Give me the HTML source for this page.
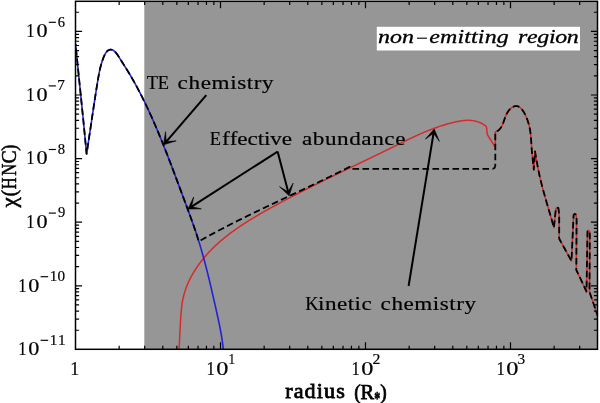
<!DOCTYPE html>
<html><head><meta charset="utf-8"><style>
html,body{margin:0;padding:0;background:#fff;}
svg{display:block;font-family:"Liberation Serif",serif;will-change:transform;font-kerning:none;font-variant-ligatures:none;}
</style></head><body>
<svg width="600" height="403" viewBox="0 0 600 403">
<defs><clipPath id="clip"><rect x="75.5" y="1.3" width="522" height="348"/></clipPath></defs>
<rect x="144.3" y="1.3" width="453.2" height="348" fill="#969696"/>
<rect x="376.8" y="26.8" width="203.2" height="23.7" fill="#fff"/>
<g clip-path="url(#clip)" fill="none" stroke-linejoin="round">
<path d="M178.7 362 L178.53 361.15 L178.57 360.36 L178.61 359.57 L178.64 358.78 L178.68 357.99 L178.72 357.19 L178.76 356.4 L178.79 355.61 L178.83 354.82 L178.87 354.02 L178.91 353.23 L178.94 352.43 L178.98 351.64 L179.02 350.84 L179.06 350.05 L179.09 349.25 L179.13 348.45 L179.17 347.66 L179.21 346.86 L179.24 346.06 L179.28 345.26 L179.32 344.46 L179.36 343.66 L179.39 342.86 L179.43 342.06 L179.47 341.26 L179.51 340.46 L179.55 339.66 L179.59 338.86 L179.63 338.05 L179.67 337.25 L179.7 336.45 L179.74 335.64 L179.78 334.84 L179.83 334.03 L179.87 333.23 L179.91 332.42 L179.95 331.62 L179.99 330.81 L180.03 330.01 L180.08 329.2 L180.12 328.39 L180.16 327.58 L180.21 326.78 L180.25 325.97 L180.3 325.16 L180.34 324.35 L180.39 323.54 L180.43 322.73 L180.48 321.92 L180.53 321.11 L180.58 320.3 L180.63 319.49 L180.67 318.67 L180.73 317.86 L180.78 317.05 L180.83 316.24 L180.89 315.43 L180.94 314.62 L181 313.8 L181.07 312.99 L181.13 312.18 L181.2 311.37 L181.27 310.56 L181.35 309.76 L181.43 308.95 L181.52 308.14 L181.61 307.34 L181.7 306.54 L181.81 305.73 L181.91 304.93 L182.03 304.13 L182.15 303.34 L182.27 302.54 L182.41 301.75 L182.55 300.96 L182.7 300.17 L182.85 299.38 L183.02 298.6 L183.19 297.81 L183.37 297.03 L183.56 296.26 L183.76 295.48 L183.96 294.71 L184.17 293.94 L184.39 293.17 L184.62 292.41 L184.86 291.64 L185.1 290.88 L185.35 290.13 L185.61 289.37 L185.87 288.62 L186.14 287.87 L186.42 287.13 L186.71 286.38 L187 285.64 L187.3 284.9 L187.6 284.17 L187.92 283.43 L188.24 282.7 L188.56 281.98 L188.9 281.25 L189.23 280.53 L189.58 279.81 L189.93 279.09 L190.29 278.38 L190.65 277.67 L191.02 276.96 L191.4 276.26 L191.78 275.56 L192.16 274.86 L192.56 274.17 L192.95 273.47 L193.36 272.78 L193.77 272.1 L194.18 271.42 L194.6 270.74 L195.02 270.06 L195.45 269.39 L195.89 268.72 L196.33 268.05 L196.77 267.38 L197.22 266.72 L197.67 266.07 L198.13 265.41 L198.6 264.76 L199.06 264.11 L199.54 263.47 L200.01 262.83 L200.49 262.19 L200.98 261.56 L201.47 260.93 L201.96 260.3 L202.46 259.67 L202.96 259.05 L203.46 258.44 L203.97 257.82 L204.48 257.21 L204.99 256.61 L205.51 256.01 L206.04 255.41 L206.56 254.81 L207.09 254.22 L207.62 253.63 L208.16 253.04 L208.7 252.46 L209.24 251.88 L209.79 251.3 L210.34 250.73 L210.89 250.16 L211.45 249.59 L212.01 249.03 L212.57 248.46 L213.13 247.91 L213.7 247.35 L214.27 246.8 L214.85 246.25 L215.43 245.7 L216.01 245.16 L216.59 244.62 L217.18 244.08 L217.77 243.55 L218.36 243.02 L218.95 242.49 L219.55 241.96 L220.15 241.44 L220.75 240.92 L221.36 240.4 L221.97 239.88 L222.58 239.37 L223.19 238.86 L223.81 238.35 L224.43 237.85 L225.05 237.35 L225.67 236.85 L226.3 236.35 L226.92 235.85 L227.55 235.36 L228.19 234.87 L228.82 234.38 L229.46 233.9 L230.1 233.42 L230.74 232.93 L231.38 232.46 L232.03 231.98 L232.67 231.51 L233.32 231.03 L233.97 230.56 L234.63 230.1 L235.28 229.63 L235.94 229.17 L236.6 228.71 L237.26 228.25 L237.92 227.79 L238.59 227.33 L239.25 226.88 L239.92 226.43 L240.59 225.98 L241.26 225.53 L241.93 225.09 L242.61 224.64 L243.28 224.2 L243.96 223.76 L244.64 223.32 L245.31 222.89 L246 222.45 L246.68 222.02 L247.36 221.59 L248.05 221.16 L248.73 220.73 L249.42 220.3 L250.11 219.88 L250.8 219.45 L251.49 219.03 L252.18 218.61 L252.87 218.19 L253.56 217.77 L254.26 217.35 L254.95 216.94 L255.65 216.53 L256.35 216.11 L257.04 215.7 L257.74 215.29 L258.44 214.88 L259.14 214.48 L259.84 214.07 L260.54 213.66 L261.25 213.26 L261.95 212.86 L262.65 212.46 L263.36 212.05 L264.06 211.65 L264.76 211.26 L265.47 210.86 L266.17 210.46 L266.88 210.07 L267.59 209.67 L268.29 209.28 L269 208.88 L269.7 208.49 L270.41 208.1 L271.12 207.71 L271.83 207.32 L272.53 206.93 L273.24 206.54 L273.95 206.15 L274.66 205.77 L275.36 205.38 L276.07 204.99 L276.78 204.61 L277.49 204.23 L278.2 203.84 L278.9 203.46 L279.61 203.08 L280.32 202.7 L281.03 202.32 L281.74 201.94 L282.45 201.56 L283.16 201.18 L283.87 200.8 L284.58 200.43 L285.29 200.05 L286 199.67 L286.71 199.3 L287.42 198.92 L288.13 198.55 L288.84 198.18 L289.55 197.8 L290.26 197.43 L290.98 197.06 L291.69 196.69 L292.4 196.32 L293.11 195.95 L293.82 195.58 L294.53 195.21 L295.25 194.85 L295.96 194.48 L296.67 194.11 L297.38 193.74 L298.1 193.38 L298.81 193.01 L299.52 192.65 L300.23 192.28 L300.95 191.92 L301.66 191.56 L302.37 191.19 L303.09 190.83 L303.8 190.47 L304.52 190.11 L305.23 189.75 L305.94 189.39 L306.66 189.03 L307.37 188.67 L308.09 188.31 L308.8 187.95 L309.52 187.59 L310.23 187.23 L310.95 186.88 L311.66 186.52 L312.38 186.16 L313.09 185.81 L313.81 185.45 L314.52 185.09 L315.24 184.74 L315.96 184.38 L316.67 184.03 L317.39 183.68 L318.11 183.32 L318.82 182.97 L319.54 182.61 L320.25 182.26 L320.97 181.91 L321.69 181.56 L322.41 181.2 L323.12 180.85 L323.84 180.5 L324.56 180.15 L325.27 179.8 L325.99 179.45 L326.71 179.1 L327.43 178.75 L328.15 178.4 L328.86 178.05 L329.58 177.7 L330.3 177.35 L331.02 177 L331.74 176.65 L332.46 176.3 L333.17 175.95 L333.89 175.6 L334.61 175.25 L335.33 174.91 L336.05 174.56 L336.77 174.21 L337.49 173.86 L338.21 173.51 L338.93 173.17 L339.65 172.82 L340.37 172.47 L341.09 172.12 L341.81 171.78 L342.53 171.43 L343.25 171.08 L343.97 170.74 L344.69 170.39 L345.41 170.04 L346.13 169.69 L346.85 169.35 L347.57 169 L348.29 168.65 L349.01 168.31 L349.73 167.96 L350.45 167.61 L351.18 167.27 L351.9 166.92 L352.62 166.57 L353.34 166.23 L354.06 165.88 L354.78 165.53 L355.5 165.19 L356.23 164.84 L356.95 164.49 L357.67 164.15 L358.39 163.8 L359.11 163.45 L359.84 163.1 L360.56 162.76 L361.28 162.41 L362 162.06 L362.73 161.71 L363.45 161.36 L364.17 161.02 L364.89 160.67 L365.62 160.32 L366.34 159.97 L367.06 159.62 L367.79 159.27 L368.51 158.93 L369.23 158.58 L369.96 158.23 L370.68 157.88 L371.4 157.53 L372.13 157.18 L372.85 156.83 L373.57 156.48 L374.3 156.13 L375.02 155.78 L375.74 155.42 L376.47 155.07 L377.19 154.72 L377.92 154.37 L378.64 154.02 L379.36 153.66 L380.09 153.31 L380.81 152.96 L381.54 152.61 L382.26 152.25 L382.99 151.9 L383.71 151.54 L384.44 151.19 L385.16 150.83 L385.88 150.48 L386.61 150.12 L387.33 149.77 L388.06 149.41 L388.78 149.05 L389.51 148.7 L390.23 148.34 L390.96 147.98 L391.68 147.62 L392.41 147.26 L393.13 146.9 L393.86 146.55 L394.59 146.19 L395.31 145.83 L396.04 145.47 L396.76 145.11 L397.49 144.75 L398.22 144.39 L398.94 144.03 L399.67 143.68 L400.4 143.32 L401.12 142.96 L401.85 142.61 L402.58 142.25 L403.31 141.89 L404.03 141.54 L404.76 141.19 L405.49 140.83 L406.22 140.48 L406.95 140.13 L407.68 139.78 L408.41 139.43 L409.14 139.08 L409.87 138.73 L410.6 138.39 L411.34 138.04 L412.07 137.7 L412.8 137.35 L413.53 137.01 L414.27 136.67 L415 136.34 L415.74 136 L416.47 135.66 L417.21 135.33 L417.94 135 L418.68 134.67 L419.42 134.34 L420.15 134.02 L420.89 133.69 L421.63 133.37 L422.37 133.05 L423.11 132.73 L423.85 132.42 L424.59 132.11 L425.33 131.79 L426.08 131.49 L426.82 131.18 L427.56 130.88 L428.31 130.58 L429.05 130.28 L429.8 129.98 L430.54 129.69 L431.29 129.4 L432.04 129.11 L432.79 128.83 L433.54 128.54 L434.29 128.27 L435.04 127.99 L435.79 127.72 L436.54 127.45 L437.3 127.18 L438.05 126.92 L438.81 126.66 L439.56 126.41 L440.32 126.15 L441.08 125.9 L441.84 125.66 L442.6 125.42 L443.36 125.18 L444.12 124.94 L444.88 124.71 L445.65 124.49 L446.41 124.27 L447.18 124.05 L447.94 123.83 L448.71 123.62 L449.48 123.41 L450.25 123.21 L451.02 123.01 L451.79 122.82 L452.57 122.63 L453.34 122.45 L454.12 122.27 L454.89 122.09 L455.67 121.92 L456.45 121.75 L457.23 121.59 L458.01 121.44 L458.79 121.29 L459.57 121.15 L460.35 121.02 L461.13 120.9 L461.92 120.79 L462.7 120.68 L463.48 120.59 L464.26 120.51 L465.04 120.45 L465.82 120.39 L466.6 120.35 L467.38 120.33 L468.16 120.32 L468.94 120.33 L469.71 120.35 L470.49 120.39 L471.26 120.45 L472.03 120.52 L472.8 120.62 L473.56 120.73 L474.33 120.87 L475.09 121.02 L475.85 121.2 L476.61 121.41 L477.36 121.63 L478.12 121.88 L478.86 122.15 L479.61 122.45 L480.35 122.78 L481.09 123.13 L481.83 123.51 L482.56 123.91 L483.29 124.35 L484.01 124.82 L484.73 125.31 L485.45 125.84 L486.16 126.39 L486.5 127.2 L487.3 134.5 L495.3 147.4 L495.3 132.1 L496.04 131.64 L496.8 131.31 L497.51 130.93 L498.17 130.49 L498.78 130.01 L499.35 129.49 L499.88 128.92 L500.38 128.32 L500.83 127.68 L501.26 127.01 L501.66 126.32 L502.04 125.59 L502.39 124.85 L502.72 124.08 L503.04 123.3 L503.35 122.5 L503.65 121.69 L503.94 120.87 L504.23 120.05 L504.52 119.22 L504.81 118.4 L505.1 117.58 L505.41 116.76 L505.73 115.95 L506.07 115.16 L506.42 114.38 L506.8 113.62 L507.2 112.88 L507.63 112.17 L508.08 111.48 L508.56 110.82 L509.06 110.19 L509.59 109.59 L510.13 109.04 L510.68 108.52 L511.26 108.04 L511.84 107.61 L512.43 107.23 L513.04 106.9 L513.65 106.61 L514.26 106.39 L514.88 106.22 L515.5 106.11 L516.11 106.06 L516.73 106.08 L517.33 106.17 L517.93 106.33 L518.52 106.56 L519.11 106.87 L519.67 107.24 L520.23 107.67 L520.78 108.16 L521.32 108.71 L521.84 109.3 L522.35 109.95 L522.84 110.63 L523.33 111.35 L523.8 112.11 L524.25 112.89 L524.69 113.7 L525.11 114.53 L525.52 115.38 L525.92 116.23 L526.29 117.1 L526.65 117.96 L526.99 118.83 L527.32 119.69 L527.62 120.55 L527.91 121.39 L528.18 122.21 L528.43 123.02 L528.66 123.82 L528.88 124.61 L529.09 125.39 L529.28 126.16 L529.46 126.93 L529.62 127.7 L529.77 128.46 L529.92 129.22 L530.05 129.99 L530.17 130.76 L530.29 131.53 L530.4 132.3 L530.5 133.07 L530.59 133.85 L530.68 134.62 L530.76 135.4 L530.83 136.18 L530.9 136.96 L530.97 137.75 L531.03 138.53 L531.08 139.32 L531.14 140.11 L531.19 140.9 L531.24 141.7 L531.29 142.49 L531.34 143.29 L531.39 144.09 L531.43 144.89 L531.48 145.7 L531.53 146.5 L531.58 147.31 L531.64 148.12 L531.7 148.93 L531.76 149.75 L531.82 150.56 L531.89 151.38 L531.96 152.2 L532.04 153.03 L532.12 153.85 L532.21 154.68 L532.31 155.51 L532.4 156.3 L533.8 169.7 L535 151.5 L536.9 162.3 L537.07 163.09 L537.21 163.9 L537.35 164.7 L537.5 165.51 L537.64 166.31 L537.79 167.11 L537.94 167.91 L538.1 168.71 L538.26 169.51 L538.42 170.31 L538.58 171.11 L538.75 171.91 L538.92 172.7 L539.09 173.5 L539.26 174.3 L539.44 175.09 L539.62 175.89 L539.8 176.68 L539.98 177.47 L540.16 178.27 L540.35 179.06 L540.54 179.85 L540.73 180.64 L540.93 181.43 L541.12 182.22 L541.32 183.01 L541.52 183.8 L541.72 184.59 L541.92 185.38 L542.12 186.17 L542.33 186.96 L542.54 187.74 L542.75 188.53 L542.96 189.32 L543.17 190.1 L543.38 190.89 L543.59 191.67 L543.81 192.46 L544.03 193.25 L544.24 194.03 L544.46 194.81 L544.68 195.6 L544.9 196.38 L545.13 197.17 L545.35 197.95 L545.57 198.73 L545.8 199.52 L546.02 200.3 L546.25 201.08 L546.47 201.86 L546.7 202.65 L546.93 203.43 L547.15 204.21 L547.38 204.99 L547.61 205.77 L547.84 206.56 L548.07 207.34 L548.3 208.12 L548.53 208.9 L548.76 209.68 L548.99 210.47 L549.21 211.25 L549.44 212.03 L549.67 212.81 L549.9 213.59 L550.13 214.37 L550.36 215.16 L550.59 215.94 L550.82 216.72 L551.04 217.5 L551.27 218.29 L551.5 219.07 L551.72 219.85 L551.95 220.63 L552.17 221.42 L552.39 222.2 L552.62 222.98 L552.84 223.77 L553.06 224.55 L553.28 225.34 L553.5 226.12 L553.72 226.9 L553.9 227.7 L555.9 208.6 L557 207.6 L558.4 208.2 L559.2 214.9 L559.2 238.7 L571.5 261 L573.6 215 L574.6 213.9 L576 214.6 L576.6 219 L576.3 270 L586.5 291.5 L587.5 231.4 L588.4 230.4 L589.5 231.2 L589.8 235 L589.5 292 L598.5 318" stroke="#d82a2a" stroke-width="1.5"/>
<path d="M75.5 44 L79.4 82 L83.3 120 L86.6 153.8 L86.71 152.99 L86.83 152.21 L86.95 151.43 L87.08 150.65 L87.2 149.87 L87.32 149.09 L87.45 148.31 L87.57 147.52 L87.69 146.74 L87.81 145.95 L87.93 145.17 L88.05 144.38 L88.17 143.59 L88.3 142.8 L88.42 142.01 L88.54 141.22 L88.66 140.43 L88.78 139.64 L88.9 138.85 L89.02 138.06 L89.14 137.26 L89.26 136.47 L89.38 135.67 L89.5 134.88 L89.62 134.08 L89.74 133.29 L89.85 132.49 L89.97 131.69 L90.09 130.9 L90.21 130.1 L90.33 129.3 L90.45 128.5 L90.57 127.7 L90.69 126.9 L90.81 126.1 L90.93 125.31 L91.04 124.51 L91.16 123.71 L91.28 122.91 L91.4 122.11 L91.52 121.3 L91.64 120.5 L91.76 119.7 L91.88 118.9 L91.99 118.1 L92.11 117.3 L92.23 116.5 L92.35 115.7 L92.47 114.9 L92.59 114.1 L92.71 113.3 L92.83 112.5 L92.95 111.7 L93.07 110.9 L93.19 110.1 L93.31 109.3 L93.43 108.5 L93.55 107.71 L93.67 106.91 L93.79 106.11 L93.91 105.31 L94.03 104.52 L94.15 103.72 L94.27 102.92 L94.39 102.13 L94.51 101.33 L94.63 100.54 L94.75 99.75 L94.87 98.95 L95 98.16 L95.12 97.37 L95.24 96.58 L95.36 95.79 L95.49 95 L95.61 94.21 L95.73 93.42 L95.86 92.63 L95.98 91.84 L96.1 91.06 L96.23 90.27 L96.35 89.49 L96.48 88.7 L96.6 87.92 L96.73 87.14 L96.86 86.36 L96.98 85.58 L97.11 84.8 L97.24 84.02 L97.36 83.25 L97.49 82.47 L97.62 81.7 L97.75 80.93 L97.87 80.15 L98 79.38 L98.13 78.61 L98.26 77.85 L98.4 77.08 L98.53 76.31 L98.67 75.54 L98.81 74.77 L98.95 74 L99.1 73.23 L99.26 72.46 L99.41 71.68 L99.58 70.91 L99.75 70.13 L99.92 69.35 L100.1 68.56 L100.29 67.78 L100.49 66.99 L100.7 66.19 L100.91 65.4 L101.14 64.59 L101.37 63.79 L101.62 62.98 L101.87 62.16 L102.14 61.34 L102.42 60.51 L102.71 59.67 L103.01 58.83 L103.32 58 L103.65 57.16 L104 56.34 L104.36 55.54 L104.73 54.76 L105.13 54.02 L105.54 53.31 L105.97 52.65 L106.42 52.04 L106.89 51.48 L107.38 50.99 L107.89 50.57 L108.42 50.22 L108.98 49.95 L109.55 49.77 L110.14 49.66 L110.74 49.64 L111.35 49.69 L111.95 49.82 L112.55 50.03 L113.15 50.32 L113.73 50.68 L114.3 51.12 L114.86 51.61 L115.41 52.17 L115.94 52.78 L116.47 53.43 L116.98 54.11 L117.49 54.83 L117.99 55.57 L118.48 56.33 L118.97 57.09 L119.45 57.86 L119.92 58.62 L120.39 59.37 L120.86 60.11 L121.32 60.85 L121.77 61.57 L122.22 62.28 L122.67 62.99 L123.12 63.69 L123.56 64.39 L123.99 65.07 L124.43 65.76 L124.86 66.44 L125.29 67.11 L125.71 67.79 L126.14 68.46 L126.56 69.13 L126.98 69.8 L127.39 70.47 L127.81 71.15 L128.22 71.82 L128.63 72.5 L129.04 73.17 L129.45 73.85 L129.86 74.53 L130.26 75.21 L130.67 75.9 L131.07 76.58 L131.47 77.27 L131.87 77.95 L132.27 78.64 L132.66 79.33 L133.06 80.02 L133.45 80.71 L133.84 81.41 L134.23 82.1 L134.62 82.8 L135 83.49 L135.39 84.19 L135.77 84.89 L136.16 85.59 L136.54 86.29 L136.92 86.99 L137.29 87.69 L137.67 88.4 L138.04 89.1 L138.42 89.81 L138.79 90.52 L139.16 91.23 L139.53 91.93 L139.9 92.64 L140.27 93.36 L140.63 94.07 L141 94.78 L141.36 95.49 L141.72 96.21 L142.08 96.92 L142.44 97.64 L142.8 98.35 L143.15 99.07 L143.51 99.79 L143.86 100.51 L144.21 101.23 L144.57 101.95 L144.92 102.67 L145.26 103.39 L145.61 104.11 L145.96 104.83 L146.3 105.56 L146.65 106.28 L146.99 107.01 L147.33 107.73 L147.67 108.46 L148.01 109.18 L148.35 109.91 L148.69 110.63 L149.03 111.36 L149.36 112.09 L149.69 112.82 L150.03 113.55 L150.36 114.27 L150.69 115 L151.02 115.73 L151.35 116.46 L151.68 117.19 L152 117.92 L152.33 118.66 L152.66 119.39 L152.98 120.12 L153.3 120.85 L153.63 121.58 L153.95 122.32 L154.27 123.05 L154.59 123.78 L154.9 124.52 L155.22 125.25 L155.54 125.99 L155.85 126.72 L156.17 127.46 L156.48 128.2 L156.8 128.93 L157.11 129.67 L157.42 130.41 L157.73 131.14 L158.04 131.88 L158.35 132.62 L158.66 133.36 L158.97 134.1 L159.27 134.84 L159.58 135.58 L159.88 136.31 L160.19 137.05 L160.49 137.79 L160.8 138.54 L161.1 139.28 L161.4 140.02 L161.7 140.76 L162 141.5 L162.3 142.24 L162.6 142.98 L162.9 143.73 L163.2 144.47 L163.5 145.21 L163.79 145.96 L164.09 146.7 L164.38 147.44 L164.68 148.19 L164.97 148.93 L165.27 149.68 L165.56 150.42 L165.85 151.17 L166.15 151.91 L166.44 152.66 L166.73 153.4 L167.02 154.15 L167.31 154.89 L167.6 155.64 L167.89 156.39 L168.18 157.13 L168.47 157.88 L168.75 158.63 L169.04 159.37 L169.33 160.12 L169.62 160.87 L169.9 161.62 L170.19 162.36 L170.47 163.11 L170.76 163.86 L171.05 164.61 L171.33 165.36 L171.61 166.1 L171.9 166.85 L172.18 167.6 L172.47 168.35 L172.75 169.1 L173.03 169.85 L173.32 170.6 L173.6 171.35 L173.88 172.1 L174.16 172.85 L174.44 173.6 L174.73 174.35 L175.01 175.1 L175.29 175.85 L175.57 176.6 L175.85 177.35 L176.13 178.1 L176.41 178.85 L176.69 179.6 L176.97 180.35 L177.25 181.1 L177.53 181.85 L177.81 182.6 L178.09 183.35 L178.37 184.1 L178.65 184.85 L178.93 185.6 L179.21 186.36 L179.49 187.11 L179.77 187.86 L180.05 188.61 L180.33 189.36 L180.61 190.11 L180.89 190.86 L181.17 191.61 L181.45 192.36 L181.73 193.12 L182.01 193.87 L182.29 194.62 L182.57 195.37 L182.85 196.12 L183.13 196.87 L183.41 197.62 L183.69 198.37 L183.97 199.12 L184.25 199.88 L184.53 200.63 L184.81 201.38 L185.09 202.13 L185.37 202.88 L185.65 203.63 L185.93 204.38 L186.21 205.13 L186.49 205.89 L186.77 206.64 L187.04 207.39 L187.32 208.14 L187.6 208.89 L187.88 209.65 L188.15 210.4 L188.43 211.15 L188.71 211.9 L188.98 212.66 L189.26 213.41 L189.53 214.16 L189.81 214.92 L190.08 215.67 L190.35 216.42 L190.62 217.18 L190.89 217.93 L191.17 218.69 L191.44 219.44 L191.7 220.2 L191.97 220.95 L192.24 221.71 L192.51 222.46 L192.77 223.22 L193.04 223.97 L193.3 224.73 L193.57 225.49 L193.83 226.24 L194.09 227 L194.35 227.76 L194.61 228.52 L194.87 229.27 L195.13 230.03 L195.38 230.79 L195.64 231.55 L195.89 232.31 L196.14 233.07 L196.4 233.83 L196.65 234.59 L196.9 235.35 L197.14 236.11 L197.39 236.88 L197.63 237.64 L197.88 238.4 L198.12 239.16 L198.36 239.93 L198.6 240.69 L198.84 241.46 L199.08 242.22 L199.31 242.99 L199.55 243.75 L199.78 244.52 L200.01 245.29 L200.24 246.05 L200.47 246.82 L200.7 247.59 L200.92 248.36 L201.15 249.12 L201.37 249.89 L201.6 250.66 L201.82 251.43 L202.04 252.2 L202.26 252.97 L202.47 253.74 L202.69 254.51 L202.91 255.28 L203.12 256.06 L203.33 256.83 L203.55 257.6 L203.76 258.37 L203.97 259.15 L204.18 259.92 L204.39 260.69 L204.59 261.47 L204.8 262.24 L205.01 263.01 L205.21 263.79 L205.41 264.56 L205.62 265.34 L205.82 266.11 L206.02 266.89 L206.22 267.67 L206.42 268.44 L206.62 269.22 L206.81 270 L207.01 270.77 L207.21 271.55 L207.4 272.33 L207.59 273.1 L207.79 273.88 L207.98 274.66 L208.17 275.44 L208.36 276.22 L208.56 277 L208.75 277.77 L208.93 278.55 L209.12 279.33 L209.31 280.11 L209.5 280.89 L209.69 281.67 L209.87 282.45 L210.06 283.23 L210.24 284.01 L210.43 284.79 L210.61 285.57 L210.8 286.35 L210.98 287.13 L211.16 287.91 L211.35 288.69 L211.53 289.47 L211.71 290.26 L211.89 291.04 L212.07 291.82 L212.25 292.6 L212.43 293.38 L212.61 294.16 L212.79 294.94 L212.97 295.72 L213.15 296.51 L213.33 297.29 L213.51 298.07 L213.69 298.85 L213.86 299.63 L214.04 300.42 L214.22 301.2 L214.4 301.98 L214.57 302.76 L214.75 303.54 L214.93 304.32 L215.1 305.11 L215.28 305.89 L215.46 306.67 L215.63 307.45 L215.81 308.23 L215.99 309.02 L216.16 309.8 L216.34 310.58 L216.52 311.36 L216.69 312.14 L216.87 312.93 L217.04 313.71 L217.21 314.49 L217.39 315.27 L217.56 316.05 L217.73 316.84 L217.9 317.62 L218.07 318.4 L218.24 319.19 L218.41 319.97 L218.58 320.75 L218.74 321.54 L218.91 322.32 L219.07 323.1 L219.23 323.89 L219.39 324.67 L219.55 325.46 L219.71 326.24 L219.86 327.03 L220.02 327.81 L220.17 328.6 L220.32 329.38 L220.47 330.17 L220.62 330.96 L220.76 331.74 L220.9 332.53 L221.04 333.32 L221.18 334.11 L221.32 334.9 L221.45 335.68 L221.58 336.47 L221.71 337.26 L221.84 338.05 L221.96 338.85 L222.09 339.64 L222.2 340.43 L222.32 341.22 L222.43 342.01 L222.54 342.81 L222.65 343.6 L222.76 344.39 L222.86 345.19 L222.95 345.98 L223.05 346.78 L223.14 347.58 L223.23 348.37 L223.32 349.17 L223.4 349.97 L223.47 350.77 L223.55 351.57 L223.62 352.37 L223.69 353.17 L223.75 353.97 L223.81 354.78 L223.87 355.58 L223.92 356.38 L223.97 357.19 L224.01 357.99 L224.05 358.8 L224.08 359.61 L224.11 360.41 L224.14 361.22 L224.3 362" stroke="#2222d4" stroke-width="1.6"/>
<path d="M75.5 44 L79.4 82 L83.3 120 L86.6 153.8 L86.71 152.99 L86.83 152.21 L86.95 151.43 L87.08 150.65 L87.2 149.87 L87.32 149.09 L87.45 148.31 L87.57 147.52 L87.69 146.74 L87.81 145.95 L87.93 145.17 L88.05 144.38 L88.17 143.59 L88.3 142.8 L88.42 142.01 L88.54 141.22 L88.66 140.43 L88.78 139.64 L88.9 138.85 L89.02 138.06 L89.14 137.26 L89.26 136.47 L89.38 135.67 L89.5 134.88 L89.62 134.08 L89.74 133.29 L89.85 132.49 L89.97 131.69 L90.09 130.9 L90.21 130.1 L90.33 129.3 L90.45 128.5 L90.57 127.7 L90.69 126.9 L90.81 126.1 L90.93 125.31 L91.04 124.51 L91.16 123.71 L91.28 122.91 L91.4 122.11 L91.52 121.3 L91.64 120.5 L91.76 119.7 L91.88 118.9 L91.99 118.1 L92.11 117.3 L92.23 116.5 L92.35 115.7 L92.47 114.9 L92.59 114.1 L92.71 113.3 L92.83 112.5 L92.95 111.7 L93.07 110.9 L93.19 110.1 L93.31 109.3 L93.43 108.5 L93.55 107.71 L93.67 106.91 L93.79 106.11 L93.91 105.31 L94.03 104.52 L94.15 103.72 L94.27 102.92 L94.39 102.13 L94.51 101.33 L94.63 100.54 L94.75 99.75 L94.87 98.95 L95 98.16 L95.12 97.37 L95.24 96.58 L95.36 95.79 L95.49 95 L95.61 94.21 L95.73 93.42 L95.86 92.63 L95.98 91.84 L96.1 91.06 L96.23 90.27 L96.35 89.49 L96.48 88.7 L96.6 87.92 L96.73 87.14 L96.86 86.36 L96.98 85.58 L97.11 84.8 L97.24 84.02 L97.36 83.25 L97.49 82.47 L97.62 81.7 L97.75 80.93 L97.87 80.15 L98 79.38 L98.13 78.61 L98.26 77.85 L98.4 77.08 L98.53 76.31 L98.67 75.54 L98.81 74.77 L98.95 74 L99.1 73.23 L99.26 72.46 L99.41 71.68 L99.58 70.91 L99.75 70.13 L99.92 69.35 L100.1 68.56 L100.29 67.78 L100.49 66.99 L100.7 66.19 L100.91 65.4 L101.14 64.59 L101.37 63.79 L101.62 62.98 L101.87 62.16 L102.14 61.34 L102.42 60.51 L102.71 59.67 L103.01 58.83 L103.32 58 L103.65 57.16 L104 56.34 L104.36 55.54 L104.73 54.76 L105.13 54.02 L105.54 53.31 L105.97 52.65 L106.42 52.04 L106.89 51.48 L107.38 50.99 L107.89 50.57 L108.42 50.22 L108.98 49.95 L109.55 49.77 L110.14 49.66 L110.74 49.64 L111.35 49.69 L111.95 49.82 L112.55 50.03 L113.15 50.32 L113.73 50.68 L114.3 51.12 L114.86 51.61 L115.41 52.17 L115.94 52.78 L116.47 53.43 L116.98 54.11 L117.49 54.83 L117.99 55.57 L118.48 56.33 L118.97 57.09 L119.45 57.86 L119.92 58.62 L120.39 59.37 L120.86 60.11 L121.32 60.85 L121.77 61.57 L122.22 62.28 L122.67 62.99 L123.12 63.69 L123.56 64.39 L123.99 65.07 L124.43 65.76 L124.86 66.44 L125.29 67.11 L125.71 67.79 L126.14 68.46 L126.56 69.13 L126.98 69.8 L127.39 70.47 L127.81 71.15 L128.22 71.82 L128.63 72.5 L129.04 73.17 L129.45 73.85 L129.86 74.53 L130.26 75.21 L130.67 75.9 L131.07 76.58 L131.47 77.27 L131.87 77.95 L132.27 78.64 L132.66 79.33 L133.06 80.02 L133.45 80.71 L133.84 81.41 L134.23 82.1 L134.62 82.8 L135 83.49 L135.39 84.19 L135.77 84.89 L136.16 85.59 L136.54 86.29 L136.92 86.99 L137.29 87.69 L137.67 88.4 L138.04 89.1 L138.42 89.81 L138.79 90.52 L139.16 91.23 L139.53 91.93 L139.9 92.64 L140.27 93.36 L140.63 94.07 L141 94.78 L141.36 95.49 L141.72 96.21 L142.08 96.92 L142.44 97.64 L142.8 98.35 L143.15 99.07 L143.51 99.79 L143.86 100.51 L144.21 101.23 L144.57 101.95 L144.92 102.67 L145.26 103.39 L145.61 104.11 L145.96 104.83 L146.3 105.56 L146.65 106.28 L146.99 107.01 L147.33 107.73 L147.67 108.46 L148.01 109.18 L148.35 109.91 L148.69 110.63 L149.03 111.36 L149.36 112.09 L149.69 112.82 L150.03 113.55 L150.36 114.27 L150.69 115 L151.02 115.73 L151.35 116.46 L151.68 117.19 L152 117.92 L152.33 118.66 L152.66 119.39 L152.98 120.12 L153.3 120.85 L153.63 121.58 L153.95 122.32 L154.27 123.05 L154.59 123.78 L154.9 124.52 L155.22 125.25 L155.54 125.99 L155.85 126.72 L156.17 127.46 L156.48 128.2 L156.8 128.93 L157.11 129.67 L157.42 130.41 L157.73 131.14 L158.04 131.88 L158.35 132.62 L158.66 133.36 L158.97 134.1 L159.27 134.84 L159.58 135.58 L159.88 136.31 L160.19 137.05 L160.49 137.79 L160.8 138.54 L161.1 139.28 L161.4 140.02 L161.7 140.76 L162 141.5 L162.3 142.24 L162.6 142.98 L162.9 143.73 L163.2 144.47 L163.5 145.21 L163.79 145.96 L164.09 146.7 L164.38 147.44 L164.68 148.19 L164.97 148.93 L165.27 149.68 L165.56 150.42 L165.85 151.17 L166.15 151.91 L166.44 152.66 L166.73 153.4 L167.02 154.15 L167.31 154.89 L167.6 155.64 L167.89 156.39 L168.18 157.13 L168.47 157.88 L168.75 158.63 L169.04 159.37 L169.33 160.12 L169.62 160.87 L169.9 161.62 L170.19 162.36 L170.47 163.11 L170.76 163.86 L171.05 164.61 L171.33 165.36 L171.61 166.1 L171.9 166.85 L172.18 167.6 L172.47 168.35 L172.75 169.1 L173.03 169.85 L173.32 170.6 L173.6 171.35 L173.88 172.1 L174.16 172.85 L174.44 173.6 L174.73 174.35 L175.01 175.1 L175.29 175.85 L175.57 176.6 L175.85 177.35 L176.13 178.1 L176.41 178.85 L176.69 179.6 L176.97 180.35 L177.25 181.1 L177.53 181.85 L177.81 182.6 L178.09 183.35 L178.37 184.1 L178.65 184.85 L178.93 185.6 L179.21 186.36 L179.49 187.11 L179.77 187.86 L180.05 188.61 L180.33 189.36 L180.61 190.11 L180.89 190.86 L181.17 191.61 L181.45 192.36 L181.73 193.12 L182.01 193.87 L182.29 194.62 L182.57 195.37 L182.85 196.12 L183.13 196.87 L183.41 197.62 L183.69 198.37 L183.97 199.12 L184.25 199.88 L184.53 200.63 L184.81 201.38 L185.09 202.13 L185.37 202.88 L185.65 203.63 L185.93 204.38 L186.21 205.13 L186.49 205.89 L186.77 206.64 L187.04 207.39 L187.32 208.14 L187.6 208.89 L187.88 209.65 L188.15 210.4 L188.43 211.15 L188.71 211.9 L188.98 212.66 L189.26 213.41 L189.53 214.16 L189.81 214.92 L190.08 215.67 L190.35 216.42 L190.62 217.18 L190.89 217.93 L191.17 218.69 L191.44 219.44 L191.7 220.2 L191.97 220.95 L192.24 221.71 L192.51 222.46 L192.77 223.22 L193.04 223.97 L193.3 224.73 L193.57 225.49 L193.83 226.24 L194.09 227 L194.35 227.76 L194.61 228.52 L194.87 229.27 L195.13 230.03 L195.38 230.79 L195.64 231.55 L195.89 232.31 L196.14 233.07 L196.4 233.83 L196.65 234.59 L196.9 235.35 L197.14 236.11 L197.39 236.88 L197.63 237.64 L197.88 238.4 L198.12 239.16 L198.36 239.93 L198.6 240.69 L198.84 241.46 L199.51 241 L200.21 240.6 L200.91 240.2 L201.62 239.81 L202.32 239.42 L203.02 239.02 L203.73 238.63 L204.43 238.24 L205.14 237.85 L205.84 237.46 L206.55 237.07 L207.25 236.68 L207.96 236.29 L208.67 235.91 L209.38 235.52 L210.08 235.14 L210.79 234.75 L211.5 234.37 L212.21 233.99 L212.92 233.6 L213.63 233.22 L214.34 232.84 L215.05 232.46 L215.76 232.08 L216.47 231.7 L217.18 231.33 L217.89 230.95 L218.61 230.57 L219.32 230.2 L220.03 229.82 L220.74 229.45 L221.46 229.07 L222.17 228.7 L222.89 228.33 L223.6 227.96 L224.31 227.59 L225.03 227.22 L225.75 226.85 L226.46 226.48 L227.18 226.11 L227.89 225.74 L228.61 225.37 L229.33 225 L230.05 224.64 L230.76 224.27 L231.48 223.91 L232.2 223.54 L232.92 223.18 L233.64 222.82 L234.35 222.45 L235.07 222.09 L235.79 221.73 L236.51 221.37 L237.23 221.01 L237.95 220.64 L238.67 220.28 L239.4 219.93 L240.12 219.57 L240.84 219.21 L241.56 218.85 L242.28 218.49 L243 218.13 L243.73 217.78 L244.45 217.42 L245.17 217.07 L245.89 216.71 L246.62 216.35 L247.34 216 L248.06 215.65 L248.79 215.29 L249.51 214.94 L250.23 214.59 L250.96 214.23 L251.68 213.88 L252.41 213.53 L253.13 213.18 L253.86 212.83 L254.58 212.47 L255.31 212.12 L256.03 211.77 L256.76 211.42 L257.49 211.07 L258.21 210.72 L258.94 210.38 L259.66 210.03 L260.39 209.68 L261.12 209.33 L261.84 208.98 L262.57 208.63 L263.3 208.29 L264.03 207.94 L264.75 207.59 L265.48 207.25 L266.21 206.9 L266.94 206.55 L267.66 206.21 L268.39 205.86 L269.12 205.52 L269.85 205.17 L270.57 204.83 L271.3 204.48 L272.03 204.14 L272.76 203.79 L273.49 203.45 L274.22 203.1 L274.95 202.76 L275.67 202.41 L276.4 202.07 L277.13 201.73 L277.86 201.38 L278.59 201.04 L279.32 200.69 L280.05 200.35 L280.78 200.01 L281.51 199.66 L282.24 199.32 L282.96 198.98 L283.69 198.64 L284.42 198.29 L285.15 197.95 L285.88 197.61 L286.61 197.26 L287.34 196.92 L288.07 196.58 L288.8 196.24 L289.53 195.89 L290.26 195.55 L290.99 195.21 L291.72 194.86 L292.45 194.52 L293.18 194.18 L293.91 193.84 L294.63 193.49 L295.36 193.15 L296.09 192.81 L296.82 192.46 L297.55 192.12 L298.28 191.78 L299.01 191.43 L299.74 191.09 L300.47 190.75 L301.2 190.4 L301.93 190.06 L302.66 189.71 L303.38 189.37 L304.11 189.03 L304.84 188.68 L305.57 188.34 L306.3 187.99 L307.03 187.65 L307.76 187.3 L308.48 186.96 L309.21 186.61 L309.94 186.27 L310.67 185.92 L311.4 185.58 L312.12 185.23 L312.85 184.88 L313.58 184.54 L314.31 184.19 L315.03 183.84 L315.76 183.5 L316.49 183.15 L317.22 182.8 L317.94 182.45 L318.67 182.11 L319.4 181.76 L320.12 181.41 L320.85 181.06 L321.57 180.71 L322.3 180.36 L323.03 180.01 L323.75 179.66 L324.48 179.31 L325.2 178.96 L325.93 178.61 L326.65 178.25 L327.38 177.9 L328.1 177.55 L328.83 177.2 L329.55 176.84 L330.27 176.49 L331 176.14 L331.72 175.78 L332.45 175.43 L333.17 175.07 L333.89 174.72 L334.61 174.36 L335.34 174.01 L336.06 173.65 L336.78 173.29 L337.5 172.93 L338.23 172.58 L338.95 172.22 L339.67 171.86 L340.39 171.5 L341.11 171.14 L341.83 170.78 L342.55 170.42 L343.27 170.05 L343.99 169.69 L344.71 169.33 L345.43 168.97 L346.15 168.6 L346.87 168.24 L347.58 167.87 L348.3 167.51 L349.02 167.14 L349.8 166.9 L351.2 168.8 L493 168.8 L494.7 167.7 L495.3 165.5 L495.3 132.1 L496.04 131.64 L496.8 131.31 L497.51 130.93 L498.17 130.49 L498.78 130.01 L499.35 129.49 L499.88 128.92 L500.38 128.32 L500.83 127.68 L501.26 127.01 L501.66 126.32 L502.04 125.59 L502.39 124.85 L502.72 124.08 L503.04 123.3 L503.35 122.5 L503.65 121.69 L503.94 120.87 L504.23 120.05 L504.52 119.22 L504.81 118.4 L505.1 117.58 L505.41 116.76 L505.73 115.95 L506.07 115.16 L506.42 114.38 L506.8 113.62 L507.2 112.88 L507.63 112.17 L508.08 111.48 L508.56 110.82 L509.06 110.19 L509.59 109.59 L510.13 109.04 L510.68 108.52 L511.26 108.04 L511.84 107.61 L512.43 107.23 L513.04 106.9 L513.65 106.61 L514.26 106.39 L514.88 106.22 L515.5 106.11 L516.11 106.06 L516.73 106.08 L517.33 106.17 L517.93 106.33 L518.52 106.56 L519.11 106.87 L519.67 107.24 L520.23 107.67 L520.78 108.16 L521.32 108.71 L521.84 109.3 L522.35 109.95 L522.84 110.63 L523.33 111.35 L523.8 112.11 L524.25 112.89 L524.69 113.7 L525.11 114.53 L525.52 115.38 L525.92 116.23 L526.29 117.1 L526.65 117.96 L526.99 118.83 L527.32 119.69 L527.62 120.55 L527.91 121.39 L528.18 122.21 L528.43 123.02 L528.66 123.82 L528.88 124.61 L529.09 125.39 L529.28 126.16 L529.46 126.93 L529.62 127.7 L529.77 128.46 L529.92 129.22 L530.05 129.99 L530.17 130.76 L530.29 131.53 L530.4 132.3 L530.5 133.07 L530.59 133.85 L530.68 134.62 L530.76 135.4 L530.83 136.18 L530.9 136.96 L530.97 137.75 L531.03 138.53 L531.08 139.32 L531.14 140.11 L531.19 140.9 L531.24 141.7 L531.29 142.49 L531.34 143.29 L531.39 144.09 L531.43 144.89 L531.48 145.7 L531.53 146.5 L531.58 147.31 L531.64 148.12 L531.7 148.93 L531.76 149.75 L531.82 150.56 L531.89 151.38 L531.96 152.2 L532.04 153.03 L532.12 153.85 L532.21 154.68 L532.31 155.51 L532.4 156.3 L533.8 169.7 L535 151.5 L536.9 162.3 L537.07 163.09 L537.21 163.9 L537.35 164.7 L537.5 165.51 L537.64 166.31 L537.79 167.11 L537.94 167.91 L538.1 168.71 L538.26 169.51 L538.42 170.31 L538.58 171.11 L538.75 171.91 L538.92 172.7 L539.09 173.5 L539.26 174.3 L539.44 175.09 L539.62 175.89 L539.8 176.68 L539.98 177.47 L540.16 178.27 L540.35 179.06 L540.54 179.85 L540.73 180.64 L540.93 181.43 L541.12 182.22 L541.32 183.01 L541.52 183.8 L541.72 184.59 L541.92 185.38 L542.12 186.17 L542.33 186.96 L542.54 187.74 L542.75 188.53 L542.96 189.32 L543.17 190.1 L543.38 190.89 L543.59 191.67 L543.81 192.46 L544.03 193.25 L544.24 194.03 L544.46 194.81 L544.68 195.6 L544.9 196.38 L545.13 197.17 L545.35 197.95 L545.57 198.73 L545.8 199.52 L546.02 200.3 L546.25 201.08 L546.47 201.86 L546.7 202.65 L546.93 203.43 L547.15 204.21 L547.38 204.99 L547.61 205.77 L547.84 206.56 L548.07 207.34 L548.3 208.12 L548.53 208.9 L548.76 209.68 L548.99 210.47 L549.21 211.25 L549.44 212.03 L549.67 212.81 L549.9 213.59 L550.13 214.37 L550.36 215.16 L550.59 215.94 L550.82 216.72 L551.04 217.5 L551.27 218.29 L551.5 219.07 L551.72 219.85 L551.95 220.63 L552.17 221.42 L552.39 222.2 L552.62 222.98 L552.84 223.77 L553.06 224.55 L553.28 225.34 L553.5 226.12 L553.72 226.9 L553.9 227.7 L555.9 208.6 L557 207.6 L558.4 208.2 L559.2 214.9 L559.2 238.7 L571.5 261 L573.6 215 L574.6 213.9 L576 214.6 L576.6 219 L576.3 270 L586.5 291.5 L587.5 231.4 L588.4 230.4 L589.5 231.2 L589.8 235 L589.5 292 L598.5 318" stroke="#000" stroke-width="1.8" stroke-dasharray="6.6 3.4000000000000004" stroke-dashoffset="5.32"/>
</g>
<path d="M206.3 95.2 L164.81 143.29" stroke="#000" stroke-width="2" fill="none"/><path d="M163.5 144.8 L165.53 131.66 L166.24 141.62 L176.2 140.87 Z" fill="#000" stroke="#000" stroke-width="0.6" stroke-linejoin="round"/>
<path d="M277.6 151.6 L189.68 207.92" stroke="#000" stroke-width="2" fill="none"/><path d="M188 209 L193.7 196.98 L191.54 206.73 L201.3 208.85 Z" fill="#000" stroke="#000" stroke-width="0.6" stroke-linejoin="round"/>
<path d="M277.6 151.6 L288.69 193.87" stroke="#000" stroke-width="2" fill="none"/><path d="M289.2 195.8 L279.52 186.68 L288.13 191.74 L293.15 183.1 Z" fill="#000" stroke="#000" stroke-width="0.6" stroke-linejoin="round"/>
<path d="M408.6 286 L433.88 131.07" stroke="#000" stroke-width="2" fill="none"/><path d="M434.2 129.1 L439.34 141.37 L433.52 133.25 L425.43 139.1 Z" fill="#000" stroke="#000" stroke-width="0.6" stroke-linejoin="round"/>
<path d="M119.15 349.3 V345.7 M119.15 1.3 V4.9 M144.68 349.3 V345.7 M144.68 1.3 V4.9 M162.8 349.3 V345.7 M162.8 1.3 V4.9 M176.85 349.3 V345.7 M176.85 1.3 V4.9 M188.33 349.3 V345.7 M188.33 1.3 V4.9 M198.04 349.3 V345.7 M198.04 1.3 V4.9 M206.45 349.3 V345.7 M206.45 1.3 V4.9 M213.87 349.3 V345.7 M213.87 1.3 V4.9 M220.5 349.3 V342.3 M220.5 1.3 V8.3 M264.15 349.3 V345.7 M264.15 1.3 V4.9 M289.68 349.3 V345.7 M289.68 1.3 V4.9 M307.8 349.3 V345.7 M307.8 1.3 V4.9 M321.85 349.3 V345.7 M321.85 1.3 V4.9 M333.33 349.3 V345.7 M333.33 1.3 V4.9 M343.04 349.3 V345.7 M343.04 1.3 V4.9 M351.45 349.3 V345.7 M351.45 1.3 V4.9 M358.87 349.3 V345.7 M358.87 1.3 V4.9 M365.5 349.3 V342.3 M365.5 1.3 V8.3 M409.15 349.3 V345.7 M409.15 1.3 V4.9 M434.68 349.3 V345.7 M434.68 1.3 V4.9 M452.8 349.3 V345.7 M452.8 1.3 V4.9 M466.85 349.3 V345.7 M466.85 1.3 V4.9 M478.33 349.3 V345.7 M478.33 1.3 V4.9 M488.04 349.3 V345.7 M488.04 1.3 V4.9 M496.45 349.3 V345.7 M496.45 1.3 V4.9 M503.87 349.3 V345.7 M503.87 1.3 V4.9 M510.5 349.3 V342.3 M510.5 1.3 V8.3 M554.15 349.3 V345.7 M554.15 1.3 V4.9 M579.68 349.3 V345.7 M579.68 1.3 V4.9 M75.5 330.25 H79.1 M597.5 330.25 H593.9 M75.5 319.06 H79.1 M597.5 319.06 H593.9 M75.5 311.11 H79.1 M597.5 311.11 H593.9 M75.5 304.95 H79.1 M597.5 304.95 H593.9 M75.5 299.91 H79.1 M597.5 299.91 H593.9 M75.5 295.65 H79.1 M597.5 295.65 H593.9 M75.5 291.96 H79.1 M597.5 291.96 H593.9 M75.5 288.71 H79.1 M597.5 288.71 H593.9 M75.5 285.8 H82.1 M597.5 285.8 H590.9 M75.5 266.65 H79.1 M597.5 266.65 H593.9 M75.5 255.46 H79.1 M597.5 255.46 H593.9 M75.5 247.51 H79.1 M597.5 247.51 H593.9 M75.5 241.35 H79.1 M597.5 241.35 H593.9 M75.5 236.31 H79.1 M597.5 236.31 H593.9 M75.5 232.05 H79.1 M597.5 232.05 H593.9 M75.5 228.36 H79.1 M597.5 228.36 H593.9 M75.5 225.11 H79.1 M597.5 225.11 H593.9 M75.5 222.2 H82.1 M597.5 222.2 H590.9 M75.5 203.05 H79.1 M597.5 203.05 H593.9 M75.5 191.86 H79.1 M597.5 191.86 H593.9 M75.5 183.91 H79.1 M597.5 183.91 H593.9 M75.5 177.75 H79.1 M597.5 177.75 H593.9 M75.5 172.71 H79.1 M597.5 172.71 H593.9 M75.5 168.45 H79.1 M597.5 168.45 H593.9 M75.5 164.76 H79.1 M597.5 164.76 H593.9 M75.5 161.51 H79.1 M597.5 161.51 H593.9 M75.5 158.6 H82.1 M597.5 158.6 H590.9 M75.5 139.45 H79.1 M597.5 139.45 H593.9 M75.5 128.26 H79.1 M597.5 128.26 H593.9 M75.5 120.31 H79.1 M597.5 120.31 H593.9 M75.5 114.15 H79.1 M597.5 114.15 H593.9 M75.5 109.11 H79.1 M597.5 109.11 H593.9 M75.5 104.85 H79.1 M597.5 104.85 H593.9 M75.5 101.16 H79.1 M597.5 101.16 H593.9 M75.5 97.91 H79.1 M597.5 97.91 H593.9 M75.5 95 H82.1 M597.5 95 H590.9 M75.5 75.85 H79.1 M597.5 75.85 H593.9 M75.5 64.66 H79.1 M597.5 64.66 H593.9 M75.5 56.71 H79.1 M597.5 56.71 H593.9 M75.5 50.55 H79.1 M597.5 50.55 H593.9 M75.5 45.51 H79.1 M597.5 45.51 H593.9 M75.5 41.25 H79.1 M597.5 41.25 H593.9 M75.5 37.56 H79.1 M597.5 37.56 H593.9 M75.5 34.31 H79.1 M597.5 34.31 H593.9 M75.5 31.4 H82.1 M597.5 31.4 H590.9 M75.5 12.25 H79.1 M597.5 12.25 H593.9" stroke="#000" stroke-width="1.2" fill="none"/>
<rect x="75.5" y="1.3" width="522" height="348" fill="none" stroke="#000" stroke-width="1.5"/>
<g font-family="Liberation Serif" fill="#000">
<text x="26.23" y="37.20" font-size="19.40" textLength="8.38" lengthAdjust="spacingAndGlyphs" stroke="#000" stroke-width="0.2">1</text><text x="36.56" y="37.20" font-size="19.40" textLength="11.09" lengthAdjust="spacingAndGlyphs" stroke="#000" stroke-width="0.2">0</text><path d="M48.80 22.30H55.90" stroke="#000" stroke-width="1.15"/><text x="57.78" y="26.50" font-size="15.20" textLength="7.26" lengthAdjust="spacingAndGlyphs" stroke="#000" stroke-width="0.2">6</text>
<text x="26.23" y="100.80" font-size="19.40" textLength="8.38" lengthAdjust="spacingAndGlyphs" stroke="#000" stroke-width="0.2">1</text><text x="36.56" y="100.80" font-size="19.40" textLength="11.09" lengthAdjust="spacingAndGlyphs" stroke="#000" stroke-width="0.2">0</text><path d="M48.80 85.90H55.90" stroke="#000" stroke-width="1.15"/><text x="57.39" y="90.10" font-size="15.20" textLength="7.65" lengthAdjust="spacingAndGlyphs" stroke="#000" stroke-width="0.2">7</text>
<text x="26.23" y="164.40" font-size="19.40" textLength="8.38" lengthAdjust="spacingAndGlyphs" stroke="#000" stroke-width="0.2">1</text><text x="36.56" y="164.40" font-size="19.40" textLength="11.09" lengthAdjust="spacingAndGlyphs" stroke="#000" stroke-width="0.2">0</text><path d="M48.80 149.50H55.90" stroke="#000" stroke-width="1.15"/><text x="57.84" y="153.70" font-size="15.20" textLength="7.31" lengthAdjust="spacingAndGlyphs" stroke="#000" stroke-width="0.2">8</text>
<text x="26.23" y="228.00" font-size="19.40" textLength="8.38" lengthAdjust="spacingAndGlyphs" stroke="#000" stroke-width="0.2">1</text><text x="36.56" y="228.00" font-size="19.40" textLength="11.09" lengthAdjust="spacingAndGlyphs" stroke="#000" stroke-width="0.2">0</text><path d="M48.80 213.10H55.90" stroke="#000" stroke-width="1.15"/><text x="57.93" y="217.30" font-size="15.20" textLength="7.26" lengthAdjust="spacingAndGlyphs" stroke="#000" stroke-width="0.2">9</text>
<text x="18.13" y="291.60" font-size="19.40" textLength="8.38" lengthAdjust="spacingAndGlyphs" stroke="#000" stroke-width="0.2">1</text><text x="28.36" y="291.60" font-size="19.40" textLength="11.09" lengthAdjust="spacingAndGlyphs" stroke="#000" stroke-width="0.2">0</text><path d="M40.60 276.70H48.20" stroke="#000" stroke-width="1.15"/><text x="49.66 57.58" y="280.90" font-size="15.20" stroke="#000" stroke-width="0.2">10</text>
<text x="18.13" y="355.20" font-size="19.40" textLength="8.38" lengthAdjust="spacingAndGlyphs" stroke="#000" stroke-width="0.2">1</text><text x="28.36" y="355.20" font-size="19.40" textLength="11.09" lengthAdjust="spacingAndGlyphs" stroke="#000" stroke-width="0.2">0</text><path d="M40.60 340.30H48.20" stroke="#000" stroke-width="1.15"/><text x="49.66 57.91" y="344.50" font-size="15.20" stroke="#000" stroke-width="0.2">11</text>
<text x="70.33" y="374.60" font-size="19.40" textLength="8.95" lengthAdjust="spacingAndGlyphs" stroke="#000" stroke-width="0.2">1</text>
<text x="206.43" y="374.60" font-size="19.40" textLength="8.38" lengthAdjust="spacingAndGlyphs" stroke="#000" stroke-width="0.2">1</text><text x="216.27" y="374.60" font-size="19.40" textLength="12.15" lengthAdjust="spacingAndGlyphs" stroke="#000" stroke-width="0.2">0</text><text x="228.45" y="363.90" font-size="15.20" textLength="6.53" lengthAdjust="spacingAndGlyphs" stroke="#000" stroke-width="0.2">1</text>
<text x="351.43" y="374.60" font-size="19.40" textLength="8.38" lengthAdjust="spacingAndGlyphs" stroke="#000" stroke-width="0.2">1</text><text x="361.27" y="374.60" font-size="19.40" textLength="12.15" lengthAdjust="spacingAndGlyphs" stroke="#000" stroke-width="0.2">0</text><text x="372.61" y="363.90" font-size="15.20" textLength="7.86" lengthAdjust="spacingAndGlyphs" stroke="#000" stroke-width="0.2">2</text>
<text x="496.43" y="374.60" font-size="19.40" textLength="8.38" lengthAdjust="spacingAndGlyphs" stroke="#000" stroke-width="0.2">1</text><text x="506.27" y="374.60" font-size="19.40" textLength="12.15" lengthAdjust="spacingAndGlyphs" stroke="#000" stroke-width="0.2">0</text><text x="517.57" y="363.90" font-size="15.20" textLength="7.63" lengthAdjust="spacingAndGlyphs" stroke="#000" stroke-width="0.2">3</text>
<text x="146.87 157.68" y="88.90" font-size="18.40" stroke="#000" stroke-width="0.18">TE</text>
<text transform="scale(1.2600 1)" x="140.97 149.59 159.26 167.88 182.66 188.23 195.85 201.43 208.01" y="88.90" font-size="18.40" stroke="#000" stroke-width="0.18">chemistry</text>
<text x="209.77" y="144.60" font-size="18.40" stroke="#000" stroke-width="0.18">E</text>
<text transform="scale(1.2600 1)" x="176.26 182.30 188.34 196.42 204.50 209.52 214.55 223.66" y="144.60" font-size="18.40" stroke="#000" stroke-width="0.18">ffective</text>
<text transform="scale(1.2600 1)" x="239.59 248.20 257.85 267.50 277.14 286.79 295.40 305.05 313.66" y="144.60" font-size="18.40" stroke="#000" stroke-width="0.18">abundance</text>
<text x="305.17" y="310.00" font-size="18.40" stroke="#000" stroke-width="0.18">K</text>
<text transform="scale(1.2600 1)" x="252.47 257.92 267.45 275.95 281.40 286.84" y="310.00" font-size="18.40" stroke="#000" stroke-width="0.18">inetic</text>
<text transform="scale(1.2600 1)" x="302.08 310.65 320.25 328.82 343.53 349.04 356.61 362.12 368.65" y="310.00" font-size="18.40" stroke="#000" stroke-width="0.18">chemistry</text>
<text transform="scale(1.2200 1)" x="309.79 319.67 329.54" y="43.20" font-size="19.60" font-style="italic" stroke="#000" stroke-width="0.3">non</text>
<path d="M417 38.2H427" stroke="#000" stroke-width="1.1"/>
<text transform="scale(1.2200 1)" x="351.86 360.68 374.96 380.53 386.10 391.67 397.24 407.17" y="43.20" font-size="19.60" font-style="italic" stroke="#000" stroke-width="0.3">emitting</text>
<text transform="scale(1.2200 1)" x="424.62 431.97 440.40 449.92 455.09 464.62" y="43.20" font-size="19.60" font-style="italic" stroke="#000" stroke-width="0.3">region</text>
<text transform="scale(1.0800 1)" x="264.03 271.89 282.01 293.29 300.01 311.28" y="398.50" font-size="20.50" stroke="#000" stroke-width="0.75">radius</text>
<text x="354.14" y="398.50" font-size="20.50" textLength="6.48" lengthAdjust="spacingAndGlyphs" stroke="#000" stroke-width="0.75">(</text>
<text x="360.41" y="398.50" font-size="20.50" textLength="13.62" lengthAdjust="spacingAndGlyphs" stroke="#000" stroke-width="0.75">R</text>
<text x="374.30" y="405.00" font-size="18.00" font-weight="bold" textLength="6.00" lengthAdjust="spacingAndGlyphs" stroke="#000" stroke-width="0.6">*</text>
<text x="380.37" y="398.50" font-size="20.50" textLength="6.48" lengthAdjust="spacingAndGlyphs" stroke="#000" stroke-width="0.75">)</text>
<g transform="translate(15.8 208.2) rotate(-90)"><text x="0.72" y="0.00" font-size="20.00" textLength="10.28" lengthAdjust="spacingAndGlyphs" stroke="#000" stroke-width="0.5">χ</text><text x="12.06" y="0.00" font-size="20.00" textLength="6.35" lengthAdjust="spacingAndGlyphs" stroke="#000" stroke-width="0.5">(</text><text x="19.03" y="0.00" font-size="20.00" textLength="11.85" lengthAdjust="spacingAndGlyphs" stroke="#000" stroke-width="0.5">H</text><text x="32.51" y="0.00" font-size="20.00" textLength="12.17" lengthAdjust="spacingAndGlyphs" stroke="#000" stroke-width="0.5">N</text><text x="44.79" y="0.00" font-size="20.00" textLength="13.20" lengthAdjust="spacingAndGlyphs" stroke="#000" stroke-width="0.5">C</text><text x="57.42" y="0.00" font-size="20.00" textLength="5.96" lengthAdjust="spacingAndGlyphs" stroke="#000" stroke-width="0.5">)</text></g>
</g>
</svg>
</body></html>
